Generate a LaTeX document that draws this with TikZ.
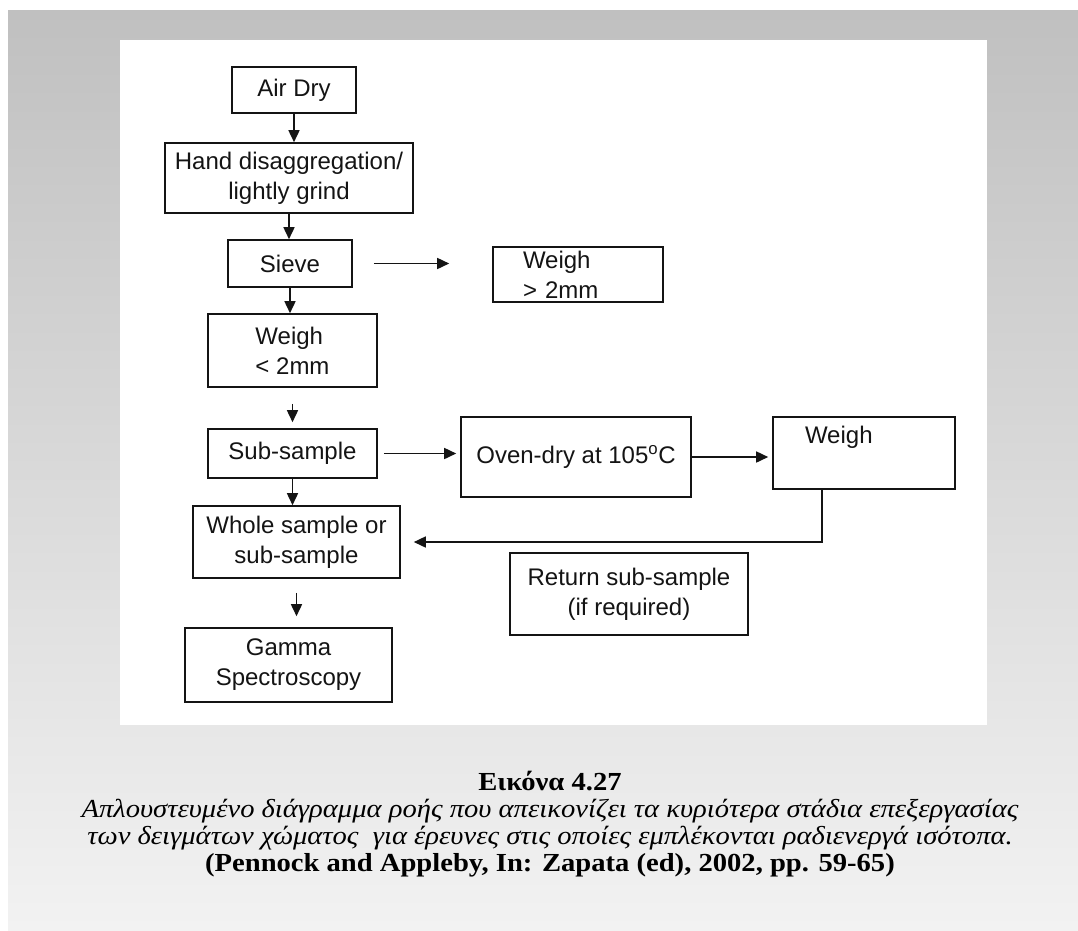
\documentclass[tikz,border=0pt]{standalone}
\usepackage{fontspec}
\usepackage{tikz}
\usetikzlibrary{arrows.meta}
\setmainfont{Liberation Sans}
\newfontfamily\captionserif[FakeStretch=1.1]{Liberation Serif}
\definecolor{framegray}{HTML}{C0C0C0}
\definecolor{framelight}{HTML}{F2F2F2}
\definecolor{inkdark}{HTML}{141414}
\newcommand{\flowtext}{\fontsize{24}{30}\selectfont}
\newcommand{\captiontext}{\captionserif\fontsize{26}{27}\selectfont}

\begin{document}
\begin{tikzpicture}[x=1pt,y=-1pt,font=\flowtext,
  flowbox/.style={draw=inkdark,line width=1.6pt,align=center,inner sep=0pt,text=inkdark},
  flowarrow/.style={-{Triangle[length=12pt,width=11pt]},line width=1.6pt,color=inkdark}]
\useasboundingbox (0,0) rectangle (1078,930);
\shade[top color=framegray,bottom color=framelight] (8,10) rectangle (1078,930);
\fill[white] (120,40) rectangle (987,725);
% main column
\node[flowbox,minimum width=124,minimum height=46] (airdry) at (294,90) {Air Dry};
\node[flowbox,minimum width=248,minimum height=70] (hand) at (289,178) {Hand disaggregation/\\lightly grind};
\node[flowbox,minimum width=124,minimum height=47] (sieve) at (290,263.5) {Sieve};
\node[flowbox,minimum width=170,minimum height=55,align=left,text width=110] (wbig) at (578,274.5) {Weigh\\> 2mm};
\node[flowbox,minimum width=169,minimum height=73,align=left] (wsmall) at (292.5,350.5) {Weigh\\< 2mm};
\node[flowbox,minimum width=169,minimum height=49] (subsample) at (292.5,453.5) {Sub-sample};
\node[flowbox,minimum width=230,minimum height=80] (oven) at (576,457) {Oven-dry at 105\textsuperscript{o}C};
\node[flowbox,minimum width=182,minimum height=72,align=left,text width=118,text height=17,text depth=36] (weigh) at (864,453) {Weigh};
\node[flowbox,minimum width=207,minimum height=72] (whole) at (296.5,542) {Whole sample or\\sub-sample};
\node[flowbox,minimum width=238,minimum height=82] (retsub) at (629,594) {Return sub-sample\\(if required)};
\node[flowbox,minimum width=207,minimum height=74] (gamma) at (288.5,665) {Gamma\\Spectroscopy};
% connectors
\draw[flowarrow] (airdry.south) -- (airdry.south |- hand.north);
\draw[flowarrow] (hand.south) -- (hand.south |- sieve.north);
\draw[flowarrow,shorten <=21pt,shorten >=43pt] (sieve.east) -- (sieve.east -| wbig.west);
\draw[flowarrow] (sieve.south) -- (sieve.south |- wsmall.north);
\draw[flowarrow,shorten <=16pt,shorten >=6pt] (wsmall.south) -- (wsmall.south |- subsample.north);
\draw[flowarrow,shorten <=6pt,shorten >=4pt] (subsample.east) -- (subsample.east -| oven.west);
\draw[flowarrow,shorten >=4pt] (oven.east) -- (oven.east -| weigh.west);
\draw[flowarrow] (subsample.south) -- (subsample.south |- whole.north);
\draw[flowarrow,shorten >=13pt] ([xshift=-42pt]weigh.south) |- (whole.east);
\draw[flowarrow,shorten <=14pt,shorten >=11pt] (whole.south) -- (whole.south |- gamma.north);
% caption
\node[align=center,font=\captiontext,text=black] (caption) at (550,824) {\textbf{Εικόνα 4.27}\\
\textit{Απλουστευμένο διάγραμμα ροής που απεικονίζει τα κυριότερα στάδια επεξεργασίας}\\
\textit{των δειγμάτων χώματος~ για έρευνες στις οποίες εμπλέκονται ραδιενεργά ισότοπα.}\\
\textbf{(Pennock and Appleby, In: Zapata (ed), 2002, pp. 59-65)}};
\end{tikzpicture}
\end{document}
